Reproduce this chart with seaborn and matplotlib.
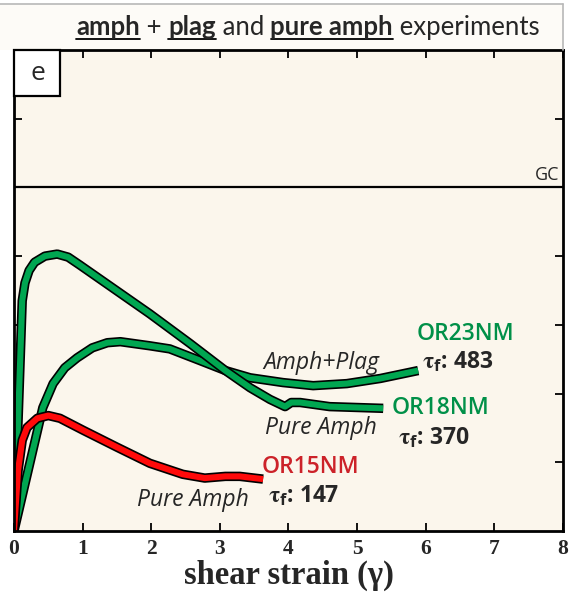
import matplotlib
matplotlib.use("Agg")
import matplotlib.pyplot as plt
import matplotlib.patheffects as pe
from matplotlib.patches import Rectangle
from matplotlib.lines import Line2D
import seaborn as sns

# shear strain (gamma) vs shear stress (MPa)
or18_strain = [0, 0.06, 0.12, 0.16, 0.22, 0.3, 0.45, 0.63, 0.79, 0.96, 1.98, 2.57, 3.08, 3.44, 3.73, 3.95, 4.04, 4.17, 4.6, 5.38]
or18_stress = [0, 322, 670, 722, 758, 782, 800, 806, 797, 774, 632, 545, 467, 417, 383, 362, 374, 374, 362, 357]

or23_strain = [0, 0.42, 0.57, 0.74, 0.92, 1.14, 1.36, 1.55, 1.98, 2.27, 2.71, 3.08, 3.44, 3.92, 4.36, 4.85, 5.34, 5.89]
or23_stress = [0, 359, 429, 475, 504, 533, 548, 551, 539, 530, 496, 467, 446, 432, 423, 429, 444, 467]

or15_strain = [0, 0.06, 0.12, 0.19, 0.34, 0.5, 0.67, 1.01, 1.5, 1.98, 2.46, 2.78, 3.08, 3.29, 3.63]
or15_stress = [0, 177, 264, 301, 328, 336, 328, 293, 244, 197, 165, 154, 159, 159, 151]

gc_stress = 1000
x_ticks = [0, 1, 2, 3, 4, 5, 6, 7, 8]
y_ticks = [200, 400, 600, 800, 1000, 1200]

green = "#00a651"
red = "#ff0a0a"
green_txt = "#009048"
red_txt = "#cc2229"
bg = "#fbf6ec"

sns.set_style("ticks")
plt.rcParams["mathtext.fontset"] = "stix"

fig = plt.figure(figsize=(5.71, 6.0), dpi=100)
fig.patch.set_facecolor("white")

# title strip
fig.add_artist(Line2D([0.0, 0.986], [0.993, 0.993], color="#b8b8b8", lw=1.2, transform=fig.transFigure))
fig.add_artist(Line2D([0.986, 0.986], [0.993, 0.916], color="#b8b8b8", lw=1.2, transform=fig.transFigure))
fig.add_artist(Rectangle((0.0, 0.916), 0.986, 0.077, transform=fig.transFigure,
                         facecolor="#fdfbf7", edgecolor="none", zorder=-1))

ax = fig.add_axes([0.0245, 0.115, 0.9615, 0.8017])
ax.set_facecolor(bg)


def draw(xs, ys, col):
    sns.lineplot(x=xs, y=ys, sort=False, estimator=None, ax=ax, color=col, lw=4.4)
    ln = ax.lines[-1]
    ln.set_solid_joinstyle("round")
    ln.set_solid_capstyle("butt")
    ln.set_path_effects([pe.Stroke(linewidth=6.8, foreground="black", capstyle="butt", joinstyle="round"),
                         pe.Normal()])


ax.axhline(gc_stress, color="black", lw=1.6, zorder=1)
draw(or23_strain, or23_stress, green)
draw(or18_strain, or18_stress, green)
draw(or15_strain, or15_stress, red)

ax.set_xlim(0, 8)
ax.set_ylim(0, 1400)
ax.set_xticks(x_ticks)
ax.set_yticks(y_ticks)
ax.set_yticklabels([])
ax.tick_params(axis="both", direction="in", length=6, width=1.3, color="black",
               top=True, right=True, bottom=True, left=True)
ax.tick_params(axis="x", labelsize=15.5, pad=6)
for lab in ax.get_xticklabels():
    lab.set_fontfamily("Liberation Serif")
    lab.set_fontweight("bold")
for s in ax.spines.values():
    s.set_linewidth(2.0)
    s.set_color("black")

ax.set_xlabel("shear strain (γ)", fontsize=23.5, fontweight="bold",
              fontfamily="Liberation Serif", labelpad=0)
ax.set_ylabel("")

sans = "Open Sans"
ax.text(7.94, gc_stress + 10, "GC", ha="right", va="bottom", fontsize=13, fontfamily=sans)

# curve labels
lab_kw = dict(fontsize=16.5, fontweight="semibold", fontfamily=sans, ha="left", va="center")
tau_kw = dict(fontsize=16.5, fontweight="bold", fontfamily=sans, ha="left", va="center")
ita_kw = dict(fontsize=16.5, style="italic", fontfamily=sans, ha="center", va="center")
tau = r"$\mathbf{\tau}_\mathregular{f}$"

ax.text(5.87, 574, "OR23NM", color=green_txt, **lab_kw)
ax.text(5.95, 493, tau + ": 483", **tau_kw)
ax.text(4.47, 490, "Amph+Plag", **ita_kw)

ax.text(5.5, 357, "OR18NM", color=green_txt, **lab_kw)
ax.text(5.6, 270, tau + ": 370", **tau_kw)
ax.text(4.47, 299, "Pure Amph", **ita_kw)

ax.text(3.61, 186, "OR15NM", color=red_txt, **lab_kw)
ax.text(3.7, 101, tau + ": 147", **tau_kw)
ax.text(2.61, 90, "Pure Amph", **ita_kw)

# panel letter box
fig.add_artist(Rectangle((0.0245, 0.84), 0.081, 0.0767, transform=fig.transFigure,
                         facecolor="white", edgecolor="black", lw=1.6, zorder=5))
fig.text(0.066, 0.877, "e", fontsize=19, fontfamily=sans, ha="center", va="center", zorder=6)

# title with underlined words
renderer = fig.canvas.get_renderer()
parts = [("amph", True), (" + ", False), ("plag", True), (" and ", False),
         ("pure amph", True), (" experiments", False)]
x_px = 76
y_px = 600 - 35
for txt, bold in parts:
    t = fig.text(x_px / 571, y_px / 600, txt, fontsize=18.5, fontfamily="Lato",
                 fontweight="bold" if bold else "normal", ha="left", va="baseline")
    bb = t.get_window_extent(renderer)
    if bold:
        fig.add_artist(Line2D([bb.x0 / 571, bb.x1 / 571], [(y_px - 3.5) / 600] * 2,
                              color="black", lw=1.3, transform=fig.transFigure))
    x_px = bb.x1

fig.savefig("out.png", dpi=100)
